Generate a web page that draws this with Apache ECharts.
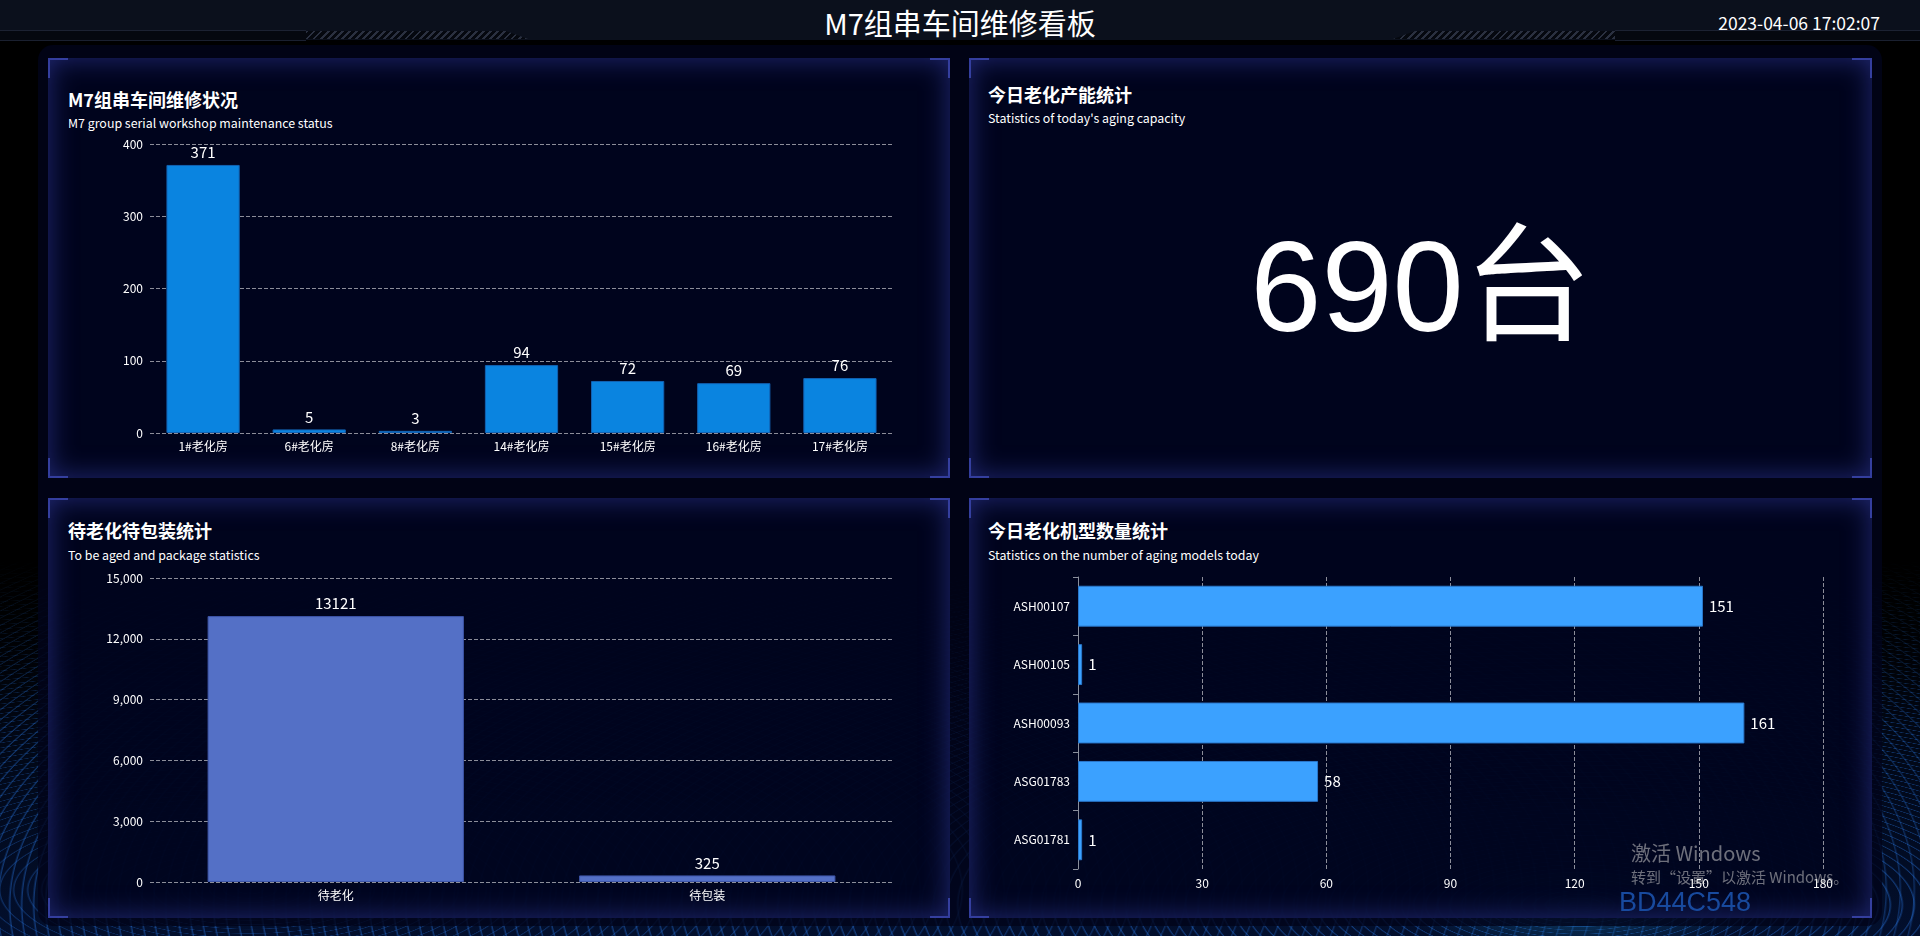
<!DOCTYPE html>
<html>
<head>
<meta charset="utf-8">
<script src="https://cdn.jsdelivr.net/npm/echarts@6/dist/echarts.min.js"></script>
<style>
  html, body { margin:0; padding:0; width:1920px; height:936px; overflow:hidden; background:#000; font-family:"Microsoft YaHei","Noto Sans CJK SC",sans-serif; }
  #bg { position:absolute; left:0; top:0; width:1920px; height:936px; background:#000; }
  #swirl { position:absolute; left:0; top:560px; width:1920px; height:376px;
    background:
      radial-gradient(ellipse 260px 70px at 1580px 345px, rgba(30,140,200,0.4), rgba(0,0,0,0) 70%),
      repeating-radial-gradient(ellipse 520px 160px at 1580px 345px, rgba(40,110,220,0.0) 0px, rgba(40,110,220,0.0) 9px, rgba(40,120,230,0.4) 10px, rgba(40,110,220,0.0) 12px),
      repeating-radial-gradient(ellipse 700px 220px at 250px 330px, rgba(40,110,220,0.0) 0px, rgba(40,110,220,0.0) 11px, rgba(40,120,230,0.3) 12px, rgba(40,110,220,0.0) 14px),
      linear-gradient(rgba(0,0,0,0), rgba(5,30,90,0.5));
    -webkit-mask-image: linear-gradient(rgba(0,0,0,0), rgba(0,0,0,1) 45%);
    mask-image: linear-gradient(rgba(0,0,0,0), rgba(0,0,0,1) 45%);
  }
  #header { position:absolute; left:0; top:0; width:1920px; height:40px; background:#0b101c; }
  .hstrip { position:absolute; top:30px; height:9px; background:#05080f; border-top:1px solid #1c2232; border-bottom:1px solid #1a2030; }
  .hatch { position:absolute; top:31px; height:8px;
    background: repeating-linear-gradient(135deg, #2a3040 0px, #2a3040 2px, #05080f 2px, #05080f 5px); }
  #title { position:absolute; left:0; top:0; width:1920px; text-align:center; line-height:44px; height:44px; font-size:29px; color:#fff; }
  #time { position:absolute; right:40px; top:11px; line-height:24px; font-size:17.5px; color:#fff; }
  #container { position:absolute; left:38px; top:45px; width:1844px; height:881px; border-radius:15px; background:rgba(1,4,26,0.8); }
  .panel { position:absolute; box-sizing:border-box;
    background:
      linear-gradient(#3b46a6,#3b46a6) left top / 20px 2px no-repeat,
      linear-gradient(#3b46a6,#3b46a6) left top / 2px 20px no-repeat,
      linear-gradient(#3b46a6,#3b46a6) right top / 20px 2px no-repeat,
      linear-gradient(#3b46a6,#3b46a6) right top / 2px 20px no-repeat,
      linear-gradient(#3b46a6,#3b46a6) left bottom / 20px 2px no-repeat,
      linear-gradient(#3b46a6,#3b46a6) left bottom / 2px 20px no-repeat,
      linear-gradient(#3b46a6,#3b46a6) right bottom / 20px 2px no-repeat,
      linear-gradient(#3b46a6,#3b46a6) right bottom / 2px 20px no-repeat,
      rgba(0,5,32,0.78);
    box-shadow: inset 0 0 28px rgba(45,55,150,0.75);
  }
  .ptitle { position:absolute; font-size:18px; font-weight:bold; color:#fff; line-height:20px; height:20px; white-space:nowrap; }
  .psub { position:absolute; font-size:12.4px; color:#fff; line-height:14px; height:14px; white-space:nowrap; }
  #chart { position:absolute; left:0; top:0; width:1920px; height:936px; }
  .wm1 { position:absolute; left:1631px; top:840px; font-size:20px; color:rgba(200,200,200,0.55); line-height:26px; white-space:nowrap; }
  .wm2 { position:absolute; left:1631px; top:868px; font-size:15px; color:rgba(200,200,200,0.55); line-height:18px; white-space:nowrap; }
  .wm3 { position:absolute; left:1619px; top:885px; font-size:27px; color:#184a9e; line-height:34px; white-space:nowrap; font-family:"Liberation Sans",sans-serif; }
</style>
</head>
<body>
<div id="bg"></div>
<div id="swirl"></div>
<div id="header"></div>
<div class="hstrip" style="left:0;width:306px;"></div>
<div class="hatch" style="left:306px;width:222px;clip-path:polygon(0 0, 90% 0, 100% 100%, 0 100%);"></div>
<div class="hstrip" style="left:1615px;width:305px;"></div>
<div class="hatch" style="left:1393px;width:222px;clip-path:polygon(10% 0, 100% 0, 100% 100%, 0 100%);"></div>
<div id="title">M7组串车间维修看板</div>
<div id="time">2023-04-06 17:02:07</div>
<div id="container"></div>
<div class="panel" style="left:48px;top:58px;width:902px;height:420px;"></div>
<div class="panel" style="left:969px;top:58px;width:903px;height:420px;"></div>
<div class="panel" style="left:48px;top:498px;width:902px;height:420px;"></div>
<div class="panel" style="left:969px;top:498px;width:903px;height:420px;"></div>

<div class="ptitle" style="left:68px;top:89px;">M7组串车间维修状况</div>
<div class="psub" style="left:68px;top:116px;">M7 group serial workshop maintenance status</div>
<div class="ptitle" style="left:988px;top:84px;">今日老化产能统计</div>
<div class="psub" style="left:988px;top:111px;">Statistics of today's aging capacity</div>
<div class="ptitle" style="left:68px;top:520px;">待老化待包装统计</div>
<div class="psub" style="left:68px;top:548px;">To be aged and package statistics</div>
<div class="ptitle" style="left:988px;top:520px;">今日老化机型数量统计</div>
<div class="psub" style="left:988px;top:548px;">Statistics on the number of aging models today</div>

<div id="chart"></div>

<div class="wm1">激活 Windows</div>
<div class="wm2">转到“设置”以激活 Windows。</div>
<div class="wm3">BD44C548</div>

<script>
// ---- data ----
const repairCategories = ['1#老化房', '6#老化房', '8#老化房', '14#老化房', '15#老化房', '16#老化房', '17#老化房'];
const repairValues = [371, 5, 3, 94, 72, 69, 76];

const capacityToday = [690];
const capacityUnit = '台';

const pendingCategories = ['待老化', '待包装'];
const pendingValues = [13121, 325];

const modelCategories = ['ASH00107', 'ASH00105', 'ASH00093', 'ASG01783', 'ASG01781'];
const modelValues = [151, 1, 161, 58, 1];

// ---- chart ----
const FONT = '"Microsoft YaHei","Noto Sans CJK SC",sans-serif';
const chart = echarts.init(document.getElementById('chart'), null, { renderer: 'canvas' });
const splitLine = { show: true, lineStyle: { color: 'rgba(255,255,255,0.55)', type: 'dashed', width: 1 } };
const axisLabel = { color: '#ffffff', fontSize: 12, fontFamily: FONT };

const option = {
  backgroundColor: 'transparent',
  animation: false,
  textStyle: { fontFamily: FONT },
  grid: [
    { left: 150, top: 144, width: 743, height: 289 },
    { left: 150, top: 578, width: 743, height: 304 },
    { left: 1078, top: 577, width: 745, height: 292 }
  ],
  xAxis: [
    { type: 'category', gridIndex: 0, data: repairCategories,
      axisLine: { show: false }, axisTick: { show: false },
      axisLabel: Object.assign({ margin: 7 }, axisLabel) },
    { type: 'category', gridIndex: 1, data: pendingCategories,
      axisLine: { show: false }, axisTick: { show: false },
      axisLabel: Object.assign({ margin: 7 }, axisLabel) },
    { type: 'value', gridIndex: 2, min: 0, max: 180, interval: 30,
      axisLine: { show: false }, axisTick: { show: false },
      splitLine: splitLine,
      axisLabel: Object.assign({ margin: 8 }, axisLabel) }
  ],
  yAxis: [
    { type: 'value', gridIndex: 0, min: 0, max: 400, interval: 100,
      axisLine: { show: false }, axisTick: { show: false },
      splitLine: splitLine,
      axisLabel: Object.assign({ margin: 7 }, axisLabel) },
    { type: 'value', gridIndex: 1, min: 0, max: 15000, interval: 3000,
      axisLine: { show: false }, axisTick: { show: false },
      splitLine: splitLine,
      axisLabel: Object.assign({ margin: 7 }, axisLabel) },
    { type: 'category', gridIndex: 2, data: modelCategories, inverse: true,
      axisLine: { show: true, lineStyle: { color: '#8a8f9c' } },
      axisTick: { show: true, length: 5, lineStyle: { color: '#8a8f9c' } },
      splitLine: { show: false },
      axisLabel: Object.assign({ margin: 8 }, axisLabel) }
  ],
  series: [
    { type: 'bar', xAxisIndex: 0, yAxisIndex: 0, data: repairValues, barWidth: '69%',
      itemStyle: { color: '#0a84e0', borderColor: '#1262b3', borderWidth: 1 },
      label: { show: true, position: 'top', color: '#ffffff', fontSize: 15, distance: 5 } },
    { type: 'bar', xAxisIndex: 1, yAxisIndex: 1, data: pendingValues, barWidth: '69%',
      itemStyle: { color: '#5470c6', borderColor: '#3d55a8', borderWidth: 1 },
      label: { show: true, position: 'top', color: '#ffffff', fontSize: 15, distance: 5 } },
    { type: 'bar', xAxisIndex: 2, yAxisIndex: 2, data: modelValues, barWidth: '70%',
      itemStyle: { color: '#3ba1ff', borderColor: '#2a78cc', borderWidth: 1 },
      label: { show: true, position: 'right', color: '#ffffff', fontSize: 15, distance: 6 } }
  ],
  graphic: [
    { type: 'text', x: 1421, y: 296,
      style: { text: capacityToday[0] + capacityUnit, fill: '#ffffff', fontSize: 128,
               fontFamily: '"Liberation Sans", Arial, "Noto Sans CJK SC", sans-serif',
               align: 'center', verticalAlign: 'middle' } }
  ]
};
chart.setOption(option);
</script>
</body>
</html>
